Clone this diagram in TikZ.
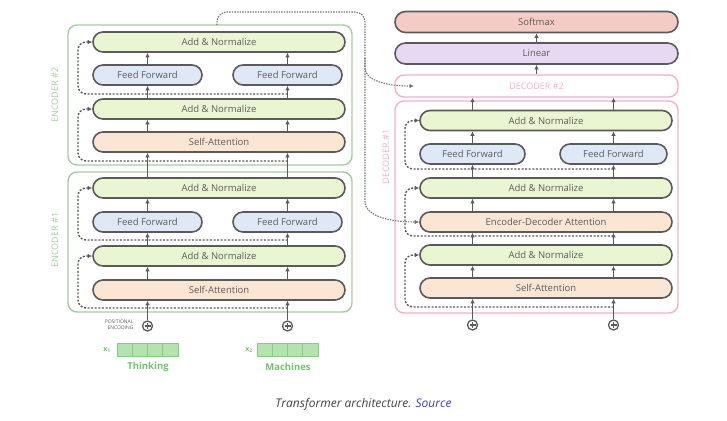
\documentclass[tikz,border=0pt]{standalone}
\usepackage{fontspec}
\setmainfont{Open Sans}
\usetikzlibrary{arrows.meta}
\definecolor{anfill}{HTML}{EAF6D2}
\definecolor{fffill}{HTML}{DEE8F6}
\definecolor{safill}{HTML}{FBE5D3}
\definecolor{smfill}{HTML}{F5CBC6}
\definecolor{lnfill}{HTML}{E6D9F1}
\definecolor{bord}{HTML}{5A5A5A}
\definecolor{encg}{HTML}{A6CBA3}
\definecolor{decp}{HTML}{F2B0CC}
\definecolor{txt}{HTML}{5E5E5E}
\definecolor{embg}{HTML}{B6E1B0}
\definecolor{embb}{HTML}{88CC82}
\definecolor{wordg}{HTML}{74C270}
\definecolor{linkb}{HTML}{3E3EC8}
\definecolor{capt}{HTML}{444444}
\tikzset{
 blk/.style={draw=bord, line width=1.6pt, rounded corners=10pt, minimum height=20pt, inner sep=0pt, font=\fontsize{9.5}{10}\selectfont, text=txt},
 an/.style={blk, fill=anfill, minimum width=252pt},
 ff/.style={blk, fill=fffill, minimum width=109pt},
 sa/.style={blk, fill=safill, minimum width=252pt},
 topblk/.style={blk, minimum width=283pt, minimum height=21pt, rounded corners=10.5pt},
 stackbox/.style={rounded corners=9pt, line width=1.4pt},
 up/.style={draw=bord, line width=1.3pt, -{Latex[length=4.5pt,width=4.5pt]}},
 res/.style={draw=bord, line width=1.4pt, dash pattern=on 2pt off 1.6pt, rounded corners=8pt, -{Latex[length=4.5pt,width=4.5pt]}},
 link/.style={draw=bord!85, line width=1.1pt, dash pattern=on 1.4pt off 1.2pt, rounded corners=10pt, -{Latex[length=4.5pt,width=4.5pt]}},
 plusc/.style={circle, draw=bord, line width=1.3pt, minimum size=10pt, inner sep=0pt,
   path picture={\draw[bord, line width=1.1pt] (path picture bounding box.center) +(-3pt,0) -- +(3pt,0) (path picture bounding box.center) +(0,-3pt) -- +(0,3pt);}},
 cell/.style={draw=embb, fill=embg, minimum width=15.25pt, minimum height=13pt, inner sep=0pt, line width=0.8pt},
 stacklbl/.style={rotate=90, font=\fontsize{9}{10}\selectfont},
}
\begin{document}
\begin{tikzpicture}[x=1pt,y=-1pt]
\useasboundingbox (0,0) rectangle (727,420);
\fill[white] (0,0) rectangle (727,420);

% ---------- encoder containers ----------
\node (enc2) [draw=encg, stackbox, minimum width=284pt, minimum height=140pt] at (210,95) {};
\node (enc1) [draw=encg, stackbox, minimum width=284pt, minimum height=140pt] at (210,242) {};
\node (enc2lbl) [stacklbl, text=encg] at (55,95) {ENCODER \#2};
\node (enc1lbl) [stacklbl, text=encg] at (55,240) {ENCODER \#1};

% ---------- encoder #2 ----------
\node (e2an2) [an] at (219,42) {Add \& Normalize};
\node (e2ffl) [ff] at (147.5,75) {Feed Forward};
\node (e2ffr) [ff] at (287.5,75) {Feed Forward};
\node (e2an1) [an] at (219,109) {Add \& Normalize};
\node (e2sa)  [sa] at (219,142) {Self-Attention};

% ---------- encoder #1 ----------
\node (e1an2) [an] at (219,188) {Add \& Normalize};
\node (e1ffl) [ff] at (147.5,222) {Feed Forward};
\node (e1ffr) [ff] at (287.5,222) {Feed Forward};
\node (e1an1) [an] at (219,256) {Add \& Normalize};
\node (e1sa)  [sa] at (219,290) {Self-Attention};

% ---------- positional encoding + embeddings ----------
\node (pe1) [plusc] at (147.5,326) {};
\node (pe2) [plusc] at (287.5,326) {};
\node (pelbl) [anchor=east, align=right, text=txt, font=\fontsize{5}{6.5}\selectfont] at (137,324.5) {POSITIONAL\\ENCODING};

\node (x1a) [cell] at (124.6,349.5) {};
\node (x1b) [cell] at (139.9,349.5) {};
\node (x1c) [cell] at (155.1,349.5) {};
\node (x1d) [cell] at (170.4,349.5) {};
\node (x1lbl) [text=wordg, font=\fontsize{7}{8}\selectfont\bfseries] at (107,350) {x\textsubscript{1}};
\node (w1) [text=wordg, font=\fontsize{9.5}{10}\selectfont\bfseries] at (148,367) {Thinking};

\node (x2a) [cell] at (264.6,349.5) {};
\node (x2b) [cell] at (279.9,349.5) {};
\node (x2c) [cell] at (295.1,349.5) {};
\node (x2d) [cell] at (310.4,349.5) {};
\node (x2lbl) [text=wordg, font=\fontsize{7}{8}\selectfont\bfseries] at (249,350) {x\textsubscript{2}};
\node (w2) [text=wordg, font=\fontsize{9.5}{10}\selectfont\bfseries] at (288,367) {Machines};

% ---------- encoder vertical arrows ----------
\foreach \c in {ffl,ffr} {
  \draw[up] (pe1.north -| e1\c) -- (e1sa.south -| e1\c);
  \draw[up] (e1sa.north -| e1\c) -- (e1an1.south -| e1\c);
  \draw[up] (e1an1.north -| e1\c) -- (e1\c.south);
  \draw[up] (e1\c.north) -- (e1an2.south -| e1\c);
  \draw[up] (e1an2.north -| e2\c) -- (e2sa.south -| e2\c);
  \draw[up] (e2sa.north -| e2\c) -- (e2an1.south -| e2\c);
  \draw[up] (e2an1.north -| e2\c) -- (e2\c.south);
  \draw[up] (e2\c.north) -- (e2an2.south -| e2\c);
}

% ---------- encoder residual connections ----------
\coordinate (elx) at (78,0);
\coordinate (e2r2) at (287.5,94);
\coordinate (e2r1) at (287.5,161);
\coordinate (e1r2) at (287.5,240);
\coordinate (e1r1) at (287.5,308);
\draw[res] (e2r2) -- (e2r2 -| elx) |- (e2an2.west);
\draw[res] (e2r1) -- (e2r1 -| elx) |- (e2an1.west);
\draw[res] (e1r2) -- (e1r2 -| elx) |- (e1an2.west);
\draw[res] (e1r1) -- (e1r1 -| elx) |- (e1an1.west);

% ---------- decoder ----------
\node (sm) [topblk, fill=smfill] at (536.5,22) {Softmax};
\node (lin) [topblk, fill=lnfill] at (536.5,53.5) {Linear};
\node (dec2) [draw=decp, stackbox, rounded corners=9pt, minimum width=283pt, minimum height=22pt, text=decp, font=\fontsize{9}{10}\selectfont] at (536.5,86) {DECODER \#2};
\node (dec1) [draw=decp, stackbox, minimum width=283pt, minimum height=212pt] at (536.5,207) {};
\node (dec1lbl) [stacklbl, text=decp] at (386,157) {DECODER \#1};

\node (dan3) [an] at (546,120.5) {Add \& Normalize};
\node (dffl) [ff, minimum width=105pt] at (472.5,154) {Feed Forward};
\node (dffr) [ff, minimum width=107pt] at (613.5,154) {Feed Forward};
\node (dan2) [an] at (546,188) {Add \& Normalize};
\node (deda) [sa] at (546,222) {Encoder-Decoder Attention};
\node (dan1) [an] at (546,255) {Add \& Normalize};
\node (dsa)  [sa] at (546,288) {Self-Attention};

\node (pd1) [plusc] at (472.5,325) {};
\node (pd2) [plusc] at (613.5,325) {};

\foreach \c in {ffl,ffr} {
  \draw[up] (pd1.north -| d\c) -- (dsa.south -| d\c);
  \draw[up] (dsa.north -| d\c) -- (dan1.south -| d\c);
  \draw[up] (dan1.north -| d\c) -- (deda.south -| d\c);
  \draw[up] (deda.north -| d\c) -- (dan2.south -| d\c);
  \draw[up] (dan2.north -| d\c) -- (d\c.south);
  \draw[up] (d\c.north) -- (dan3.south -| d\c);
  \draw[up] (dan3.north -| d\c) -- (dec2.south -| d\c);
}
\draw[up] (dec2.north) -- (lin.south);
\draw[up] (lin.north) -- (sm.south);

% ---------- decoder residual connections ----------
\coordinate (dlx) at (405,0);
\coordinate (dr3) at (613.5,169);
\coordinate (dr2) at (613.5,236);
\coordinate (dr1) at (613.5,307);
\draw[res] (dr3) -- (dr3 -| dlx) |- (dan3.west);
\draw[res] (dr2) -- (dr2 -| dlx) |- (dan2.west);
\draw[res] (dr1) -- (dr1 -| dlx) |- (dan1.west);

% ---------- encoder output to decoders ----------
\coordinate (encout) at (217,25);
\coordinate (ecorner) at (365,12);
\coordinate (esplit) at (365,58);
\coordinate (d2in) at (414,86);
\draw[link] (encout) |- (ecorner) -- (esplit) .. controls (365,80) and (385,86) .. (d2in);
\draw[link] (esplit) -- (365,192) .. controls (365,214) and (385,222) .. (deda.west);

% ---------- caption ----------
\node (cap) [text=capt, font=\fontsize{12}{14}\selectfont\itshape] at (363.5,404) {Transformer architecture. \textcolor{linkb}{Source}};
\end{tikzpicture}
\end{document}
